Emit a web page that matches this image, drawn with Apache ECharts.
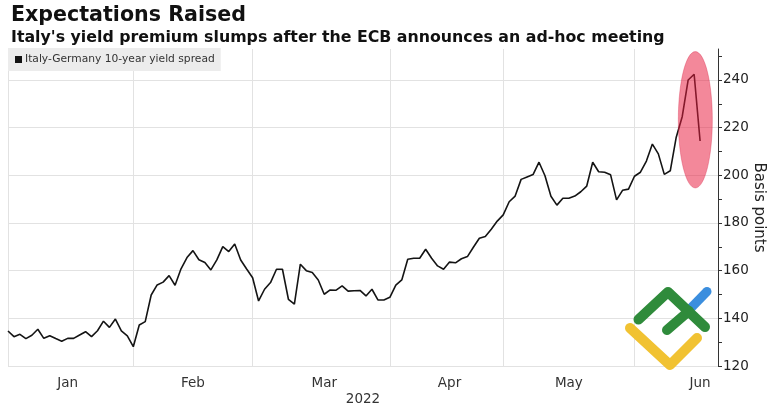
<!DOCTYPE html>
<html>
<head>
<meta charset="utf-8">
<script src="https://cdn.jsdelivr.net/npm/echarts@6/dist/echarts.min.js"></script>
<style>
html,body{margin:0;padding:0;background:#fff;}
#chart{width:776px;height:407px;}
</style>
</head>
<body>
<div id="chart"></div>
<script>
// ---- data ----
const titleText = "Expectations Raised";
const subtitleText = "Italy's yield premium slumps after the ECB announces an ad-hoc meeting";
const seriesName = "Italy-Germany 10-year yield spread";
const yAxisName = "Basis points";
const xAxisName = "2022";

// trading days per month (category axis)
const tradingDays = {
  Jan: [3,4,5,6,7,10,11,12,13,14,17,18,19,20,21,24,25,26,27,28,31],
  Feb: [1,2,3,4,7,8,9,10,11,14,15,16,17,18,21,22,23,24,25,28],
  Mar: [1,2,3,4,7,8,9,10,11,14,15,16,17,18,21,22,23,24,25,28,29,30,31],
  Apr: [1,4,5,6,7,8,11,12,13,14,19,20,21,22,25,26,27,28,29],
  May: [2,3,4,5,6,9,10,11,12,13,16,17,18,19,20,23,24,25,26,27,30,31],
  Jun: [1,2,3,6,7,8,9,10,13,14,15,16,17,20,21]
};
const monthNames = ["Jan","Feb","Mar","Apr","May","Jun"];
const monthLabelIndex = [10, 31, 53, 74, 94, 116];

const spread = [
  134.7,132.3,133.3,131.5,132.9,135.4,131.6,132.7,131.5,130.4,
  131.6,131.6,133.0,134.4,132.3,134.8,138.8,136.2,139.7,134.7,
  132.6,128.1,137.2,138.6,149.8,154.0,155.2,157.9,153.9,160.8,
  165.5,168.4,164.6,163.4,160.3,164.5,170.1,168.0,171.2,164.5,
  160.7,157.0,147.3,152.2,155.0,160.6,160.6,148.0,146.0,162.7,
  160.0,159.2,156.1,150.1,151.9,151.8,153.6,151.4,151.6,151.7,
  149.4,152.2,147.7,147.7,148.8,153.9,156.1,164.8,165.2,165.2,
  169.0,165.2,162.0,160.6,163.6,163.3,165.0,165.9,169.8,173.6,
  174.3,177.4,180.8,183.4,188.9,191.3,198.3,199.3,200.3,205.5,
  199.8,191.2,187.5,190.4,190.4,191.3,193.1,195.5,205.5,201.5,
  201.3,200.2,189.7,193.7,194.2,199.6,201.3,206.0,213.1,209.0,
  200.4,201.9,216.0,224.6,240.0,242.4,214.4
];

const yMin = 120, yMax = 253, yLabelStep = 20, yMinorStep = 10;

// annotation ellipse (in data terms)
const ellipseCenterIndex = 115.2;
const ellipseHalfWidthCats = 2.85;
const ellipseValueRange = [194.7, 251.9];

// ---- build ----
const categories = [];
const monthStartIndex = [];
monthNames.forEach(m => {
  tradingDays[m].forEach((d, k) => {
    if (k === 0) monthStartIndex.push(categories.length);
    categories.push(m + " " + d);
  });
});

const FONT = "DejaVu Sans";
const chart = echarts.init(document.getElementById('chart'), null, {renderer: 'canvas'});

chart.setOption({
  backgroundColor: '#ffffff',
  animation: false,
  title: [
    { text: titleText, left: 6, top: 0,
      textStyle: { fontFamily: FONT, fontWeight: 'bold', fontSize: 20.6, color: '#111' } },
    { text: subtitleText, left: 6, top: 25,
      textStyle: { fontFamily: FONT, fontWeight: 'bold', fontSize: 15.8, color: '#111' } }
  ],
  legend: {
    left: 8, top: 48,
    data: [seriesName],
    icon: 'rect', itemWidth: 7, itemHeight: 7,
    backgroundColor: '#ececec',
    padding: [6, 6, 6, 7],
    textStyle: { fontFamily: FONT, fontSize: 10.7, color: '#333', padding: [0,0,0,-2] },
    selectedMode: false
  },
  grid: { left: 8, right: 58, top: 49, bottom: 41, containLabel: false, outerBoundsMode: 'none' },
  xAxis: {
    type: 'category',
    data: categories,
    boundaryGap: false,
    axisLine: { show: false },
    axisTick: { show: false },
    axisLabel: {
      interval: (idx) => monthLabelIndex.indexOf(idx) >= 0,
      formatter: (val, idx) => monthNames[monthLabelIndex.indexOf(idx)] || '',
      fontFamily: FONT, fontSize: 13.5, color: '#333', margin: 10
    },
    splitLine: {
      show: true,
      interval: (idx) => monthStartIndex.indexOf(idx) >= 0,
      lineStyle: { color: '#e2e2e2', width: 1 }
    },
    name: xAxisName, nameLocation: 'middle', nameGap: 26, nameMoveOverlap: false,
    nameTextStyle: { fontFamily: FONT, fontSize: 13.5, color: '#333' }
  },
  yAxis: [
    {
      type: 'value', position: 'right',
      min: yMin, max: yMax, interval: yMinorStep,
      axisLine: { show: true, lineStyle: { color: '#333', width: 1 } },
      axisTick: { show: true, length: 4, lineStyle: { color: '#333' } },
      axisLabel: {
        formatter: (v) => (v % yLabelStep === 0 ? String(v) : ''),
        showMaxLabel: false,
        fontFamily: FONT, fontSize: 13.5, color: '#222', margin: 5
      },
      splitLine: { show: false },
      name: yAxisName, nameLocation: 'middle', nameRotate: -90, nameGap: 33, nameMoveOverlap: false,
      nameTextStyle: { fontFamily: FONT, fontSize: 15, color: '#222' }
    },
    {
      type: 'value', position: 'left',
      min: yMin, max: yMax, interval: yLabelStep,
      axisLine: { show: false }, axisTick: { show: false }, axisLabel: { show: false },
      splitLine: { show: true, showMaxLine: false, lineStyle: { color: '#e2e2e2', width: 1 } }
    }
  ],
  series: [{
    name: seriesName,
    type: 'line',
    data: spread,
    yAxisIndex: 0,
    symbol: 'none',
    lineStyle: { color: '#141414', width: 1.6 },
    itemStyle: { color: '#141414' },
    z: 3
  }]
});

// annotation ellipse and watermark logo
const pA = chart.convertToPixel({xAxisIndex: 0, yAxisIndex: 0}, [115, ellipseValueRange[0]]);
const pB = chart.convertToPixel({xAxisIndex: 0, yAxisIndex: 0}, [116, ellipseValueRange[1]]);
const catW = pB[0] - pA[0];
const cx = pA[0] + (ellipseCenterIndex - 115) * catW;
const cy = (pA[1] + pB[1]) / 2;
const ry = Math.abs(pA[1] - pB[1]) / 2;
const rx = ellipseHalfWidthCats * catW;

const logoStyle = (color) => ({ stroke: color, lineWidth: 10, lineCap: 'round', lineJoin: 'round', fill: null });
chart.setOption({
  graphic: [
    { type: 'ellipse', shape: { cx: cx, cy: cy, rx: rx, ry: ry },
      style: { fill: 'rgba(232,30,65,0.53)', stroke: 'rgba(215,40,75,0.35)', lineWidth: 1 }, z: 10 },
    { type: 'polyline', shape: { points: [[630,328],[670,365],[697,338]] }, style: logoStyle('#f1c232'), z: 11 },
    { type: 'polyline', shape: { points: [[688,311],[707,291.5]] }, style: Object.assign(logoStyle('#3b8ede'), {lineWidth: 9}), z: 11 },
    { type: 'polyline', shape: { points: [[667,330],[689,311]] }, style: logoStyle('#2f8b3b'), z: 12 },
    { type: 'polyline', shape: { points: [[638.5,319.5],[668,292],[705,327]] }, style: logoStyle('#2f8b3b'), z: 12 }
  ]
});
</script>
</body>
</html>
